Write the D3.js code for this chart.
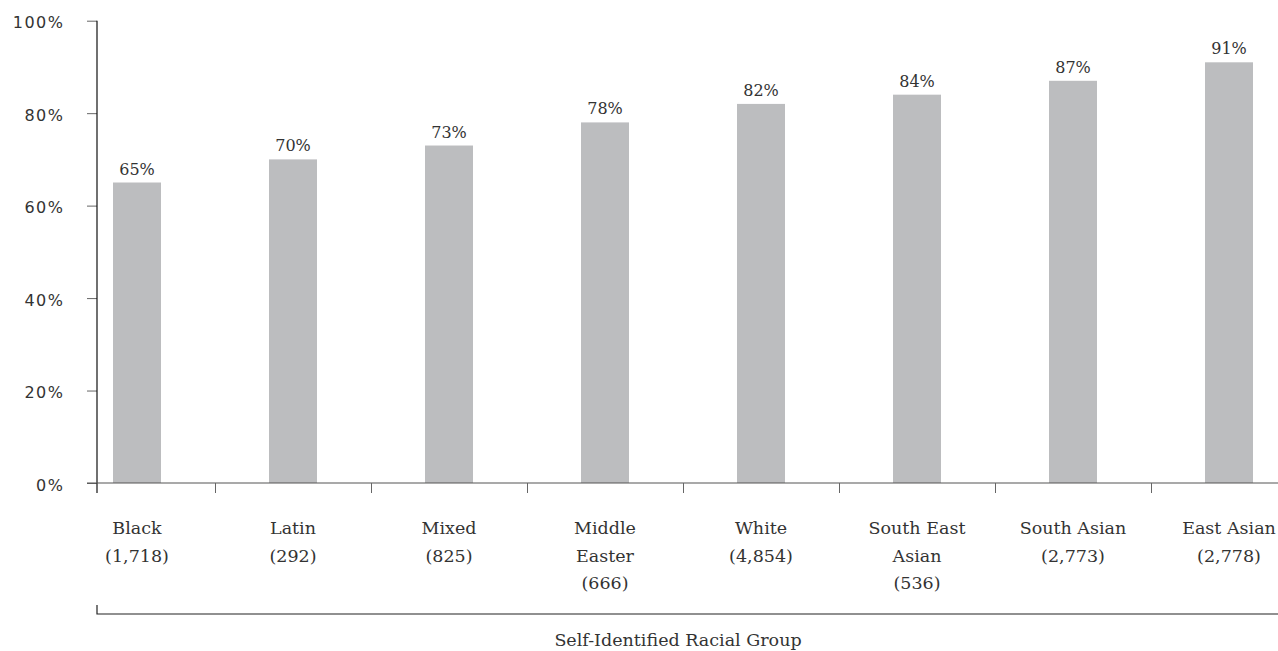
<!DOCTYPE html>
<html>
<head>
<meta charset="utf-8">
<script src="https://cdn.jsdelivr.net/npm/d3@7"></script>
<style>
  html, body { margin: 0; padding: 0; background: #fff; }
  svg { display: block; }
</style>
</head>
<body>
<svg id="chart" width="1278" height="651"></svg>
<script>
// Share per self-identified racial group, with respondent counts
const groups = ["Black", "Latin", "Mixed", "Middle\nEaster", "White", "South East\nAsian", "South Asian", "East Asian"];
const respondents = [1718, 292, 825, 666, 4854, 536, 2773, 2778];
const shares = [65, 70, 73, 78, 82, 84, 87, 91];
const yTicks = [0, 20, 40, 60, 80, 100];

const svg = d3.select("#chart");
const serif = "'DejaVu Serif', serif";
const sans = "'DejaVu Sans', sans-serif";

const x = d3.scaleBand().domain(groups).range([59, 59 + 156 * groups.length]).padding(0);
const y = d3.scaleLinear().domain([0, 100]).range([483, 20.7]);
const barW = 48;
const axisX = 97;

// Bars
svg.append("g").selectAll("rect")
  .data(groups)
  .join("rect")
  .attr("x", (d) => x(d) + x.bandwidth() / 2 - barW / 2)
  .attr("y", (d, i) => y(shares[i]))
  .attr("width", barW)
  .attr("height", (d, i) => y(0) - y(shares[i]))
  .attr("fill", "#bcbdbf");

// Value labels
svg.append("g").selectAll("text")
  .data(groups)
  .join("text")
  .attr("x", (d) => x(d) + x.bandwidth() / 2)
  .attr("y", (d, i) => y(shares[i]) - 8)
  .attr("text-anchor", "middle")
  .attr("font-family", serif)
  .attr("font-size", 16)
  .attr("fill", "#333")
  .text((d, i) => shares[i] + "%");

// Y axis
const yAxis = d3.axisLeft(y).tickValues(yTicks).tickSize(10).tickFormat((d) => d + "%");
const gy = svg.append("g").attr("transform", `translate(${axisX},0)`).call(yAxis);
gy.select(".domain").remove();
gy.selectAll(".tick line").attr("stroke", "#666");
gy.selectAll(".tick text")
  .attr("x", -34 + 1.5)
  .attr("dy", "0.45em")
  .attr("font-family", sans)
  .attr("font-size", 16)
  .attr("letter-spacing", "1.5px")
  .attr("fill", "#333");
svg.append("line")
  .attr("x1", axisX).attr("x2", axisX)
  .attr("y1", y(100)).attr("y2", y(0) + 10)
  .attr("stroke", "#111").attr("stroke-width", 1.2);

// X axis baseline and separators between groups
svg.append("line")
  .attr("x1", 87).attr("x2", 1278)
  .attr("y1", y(0)).attr("y2", y(0))
  .attr("stroke", "#555").attr("stroke-width", 1.2);
svg.append("g").selectAll("line")
  .data(groups.slice(1))
  .join("line")
  .attr("x1", (d) => Math.round(x(d)) + 0.5)
  .attr("x2", (d) => Math.round(x(d)) + 0.5)
  .attr("y1", y(0)).attr("y2", y(0) + 10)
  .attr("stroke", "#666").attr("stroke-width", 1);

// Category labels with counts
const fmt = d3.format(",");
const lab = svg.append("g").selectAll("text")
  .data(groups)
  .join("text")
  .attr("text-anchor", "middle")
  .attr("font-family", serif)
  .attr("font-size", 17.5)
  .attr("fill", "#333");
lab.each(function (d, i) {
  const lines = d.split("\n").concat(["(" + fmt(respondents[i]) + ")"]);
  const t = d3.select(this);
  lines.forEach((ln, k) => {
    t.append("tspan")
      .attr("x", x(d) + x.bandwidth() / 2)
      .attr("y", 534 + k * 27.5)
      .text(ln);
  });
});

// Axis title bracket
svg.append("path")
  .attr("d", `M${axisX},605V614H1278`)
  .attr("fill", "none")
  .attr("stroke", "#222")
  .attr("stroke-width", 1.2);
svg.append("text")
  .attr("x", 678)
  .attr("y", 646)
  .attr("text-anchor", "middle")
  .attr("font-family", serif)
  .attr("font-size", 17.5)
  .attr("fill", "#333")
  .text("Self-Identified Racial Group");
</script>
</body>
</html>
